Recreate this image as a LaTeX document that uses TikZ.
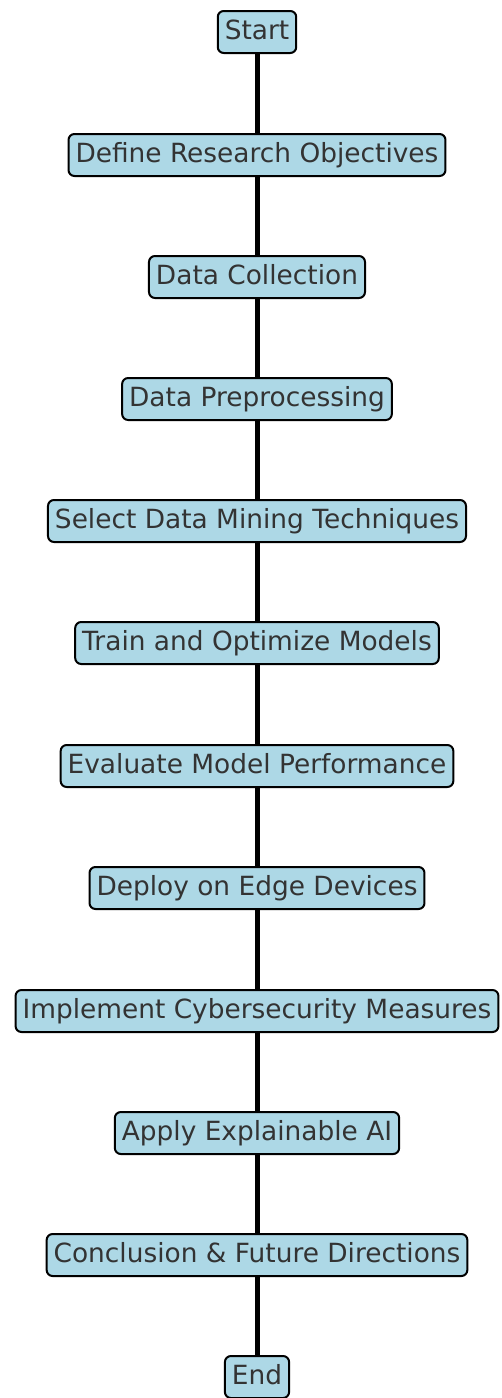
\documentclass[tikz,border=0pt]{standalone}
\usepackage{fontspec}
\setmainfont{DejaVu Sans}
\usepackage{tikz}
\definecolor{steplightblue}{RGB}{173,216,230}
\definecolor{steptext}{RGB}{51,51,51}

\begin{document}
\begin{tikzpicture}[x=1pt,y=1pt]

%
% Styles
%
\tikzstyle{stepbox} = [rectangle,rounded corners=6pt,draw=black,line width=2pt,
                       fill=steplightblue,text=steptext,inner xsep=7pt,inner ysep=8pt,
                       text height=20pt,text depth=6pt,
                       font=\fontsize{26.4}{32}\selectfont]
\tikzstyle{link}    = [line width=5pt,black]

\useasboundingbox (0,0) rectangle (501,-1398);

\node[stepbox] (start)  at (257,  -32)  {Start};
\node[stepbox] (define) at (257, -155)  {Define Research Objectives};
\node[stepbox] (collect) at (257, -277) {Data Collection};
\node[stepbox] (prep)   at (257, -399)  {Data Preprocessing};
\node[stepbox] (select) at (257, -521)  {Select Data Mining Techniques};
\node[stepbox] (train)  at (257, -643)  {Train and Optimize Models};
\node[stepbox] (eval)   at (257, -766)  {Evaluate Model Performance};
\node[stepbox] (deploy) at (257, -888)  {Deploy on Edge Devices};
\node[stepbox] (secure) at (257, -1011) {Implement Cybersecurity Measures};
\node[stepbox] (xai)    at (257, -1133) {Apply Explainable AI};
\node[stepbox] (concl)  at (257, -1255) {Conclusion \& Future Directions};
\node[stepbox] (finish) at (257, -1377) {End};

\draw[link] (start)   -- (define);
\draw[link] (define)  -- (collect);
\draw[link] (collect) -- (prep);
\draw[link] (prep)    -- (select);
\draw[link] (select)  -- (train);
\draw[link] (train)   -- (eval);
\draw[link] (eval)    -- (deploy);
\draw[link] (deploy)  -- (secure);
\draw[link] (secure)  -- (xai);
\draw[link] (xai)     -- (concl);
\draw[link] (concl)   -- (finish);

\end{tikzpicture}
\end{document}
